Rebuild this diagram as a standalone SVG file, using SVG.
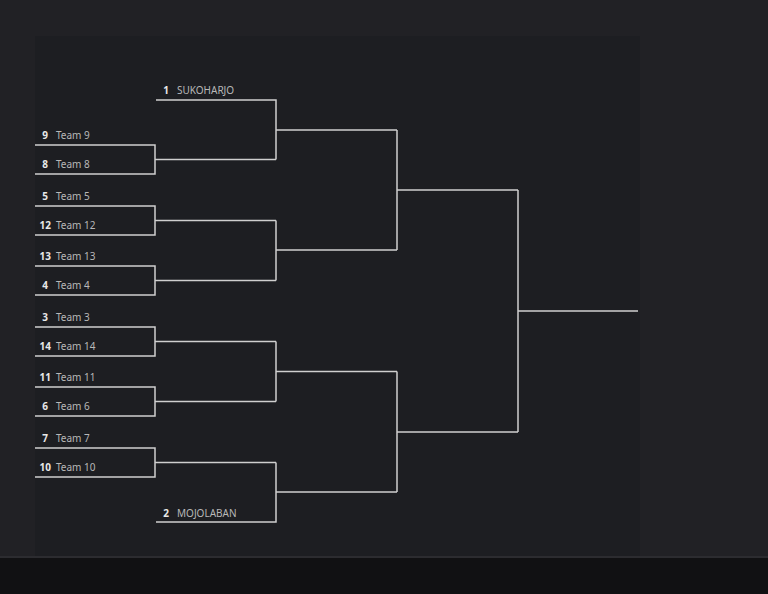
<svg xmlns="http://www.w3.org/2000/svg" width="768" height="594" viewBox="0 0 768 594">
<style>
.ln{fill:none;stroke:#cfcfcf;stroke-width:1.5}
.sd{font-family:"Noto Sans","Liberation Sans",sans-serif;font-size:10px;font-weight:bold;fill:#e8e8e8;text-anchor:end}
.nm{font-family:"Noto Sans","Liberation Sans",sans-serif;font-size:10px;fill:#b8b8b8}
</style>
<rect width="768" height="594" fill="#212125"/>
<rect x="35" y="36" width="605" height="521" fill="#1d1e22"/>
<rect x="0" y="556" width="768" height="2" fill="#2c2c30"/>
<rect x="0" y="558" width="768" height="36" fill="#111113"/>
<g id="connectors">
<path class="ln" d="M35 145H155V174H35M155 159.5H276"/>
<path class="ln" d="M35 206H155V235H35M155 220.5H276"/>
<path class="ln" d="M35 266H155V295H35M155 280.5H276"/>
<path class="ln" d="M35 327H155V356H35M155 341.5H276"/>
<path class="ln" d="M35 387H155V416H35M155 401.5H276"/>
<path class="ln" d="M35 448H155V477H35M155 462.5H276"/>
<path class="ln" d="M156 100H276V159.5M276 130H397"/>
<path class="ln" d="M276 220.5V280.5M276 250H397"/>
<path class="ln" d="M276 341.5V401.5M276 371.5H397"/>
<path class="ln" d="M156 522H276V462.5M276 492H397"/>
<path class="ln" d="M397 130V250M397 190H518"/>
<path class="ln" d="M397 371.5V492M397 432H518"/>
<path class="ln" d="M518 190V432M518 311H638"/>
</g>
<g id="team1"><text class="sd" x="169" y="94">1</text><text class="nm" x="177" y="94">SUKOHARJO</text></g>
<g id="team9"><text class="sd" x="48" y="139">9</text><text class="nm" x="56" y="139">Team 9</text></g>
<g id="team8"><text class="sd" x="48" y="168">8</text><text class="nm" x="56" y="168">Team 8</text></g>
<g id="team5"><text class="sd" x="48" y="200">5</text><text class="nm" x="56" y="200">Team 5</text></g>
<g id="team12"><text class="sd" x="51" y="229">12</text><text class="nm" x="56" y="229">Team 12</text></g>
<g id="team13"><text class="sd" x="51" y="260">13</text><text class="nm" x="56" y="260">Team 13</text></g>
<g id="team4"><text class="sd" x="48" y="289">4</text><text class="nm" x="56" y="289">Team 4</text></g>
<g id="team3"><text class="sd" x="48" y="321">3</text><text class="nm" x="56" y="321">Team 3</text></g>
<g id="team14"><text class="sd" x="51" y="350">14</text><text class="nm" x="56" y="350">Team 14</text></g>
<g id="team11"><text class="sd" x="51" y="381">11</text><text class="nm" x="56" y="381">Team 11</text></g>
<g id="team6"><text class="sd" x="48" y="410">6</text><text class="nm" x="56" y="410">Team 6</text></g>
<g id="team7"><text class="sd" x="48" y="442">7</text><text class="nm" x="56" y="442">Team 7</text></g>
<g id="team10"><text class="sd" x="51" y="471">10</text><text class="nm" x="56" y="471">Team 10</text></g>
<g id="team2"><text class="sd" x="169" y="517">2</text><text class="nm" x="177" y="517">MOJOLABAN</text></g>
</svg>
